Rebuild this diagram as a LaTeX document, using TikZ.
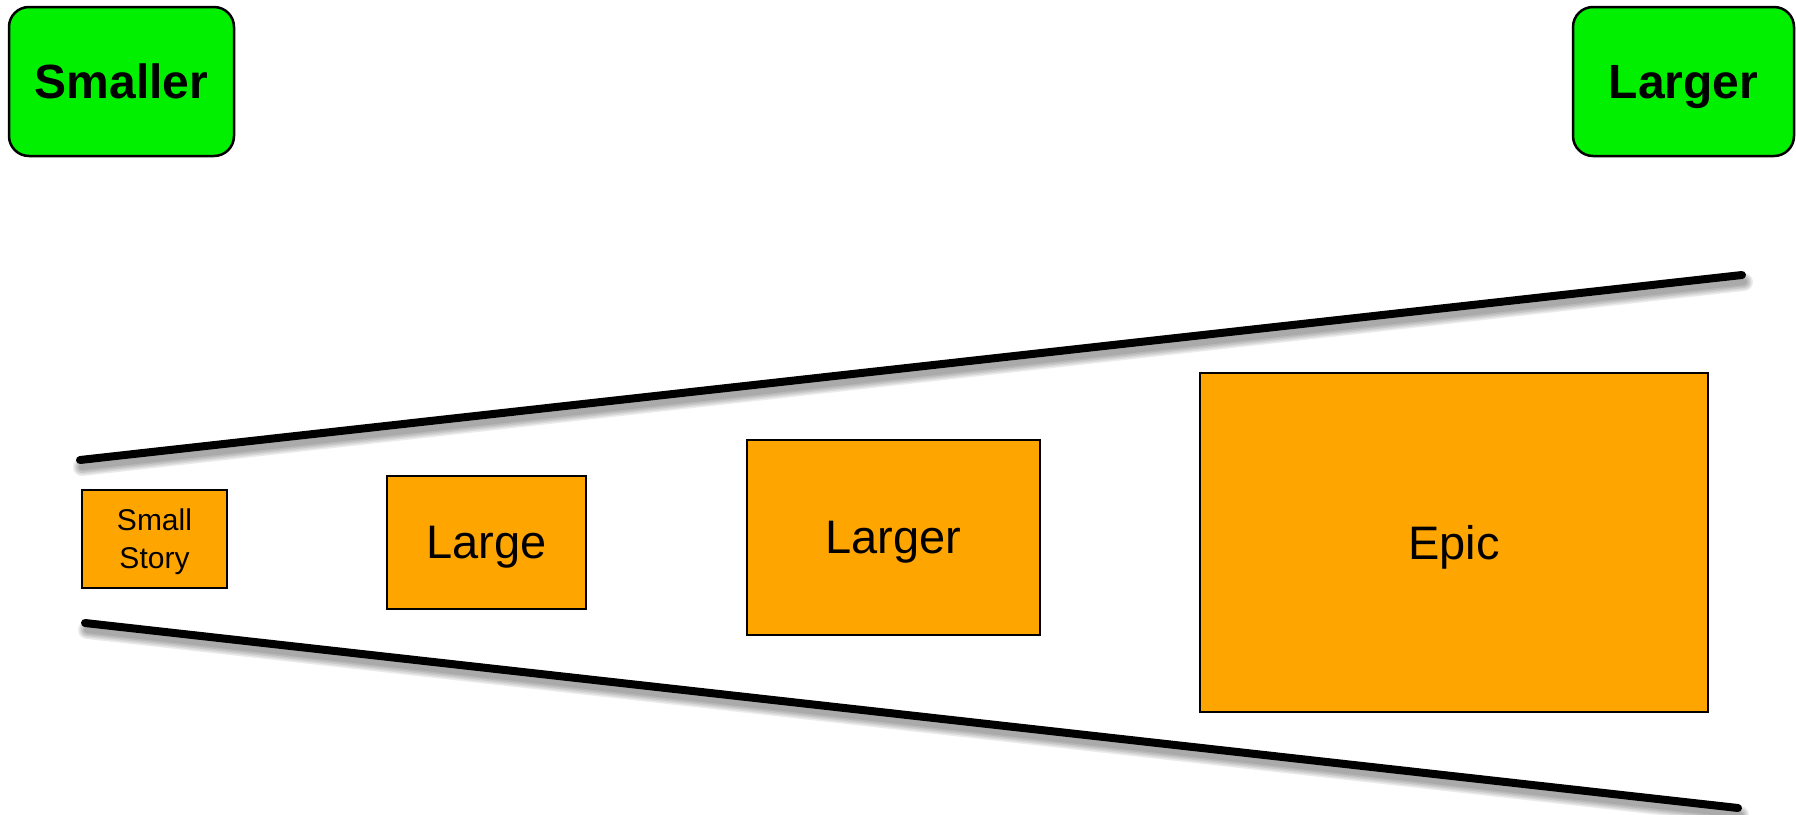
\documentclass[tikz,border=0pt]{standalone}
\usepackage{fontspec}
\setmainfont{Liberation Sans}
\definecolor{boxgreen}{RGB}{0,240,0}
\definecolor{boxorange}{RGB}{255,165,0}
\begin{document}
\begin{tikzpicture}[x=1pt,y=-1pt,
  greenbox/.style={draw=black, line width=2.5pt, fill=boxgreen, rounded corners=20pt, inner sep=0pt,
    text depth=0pt, font=\fontsize{48}{56}\selectfont\bfseries},
  orangebox/.style={draw=black, line width=2pt, fill=boxorange, inner sep=0pt,
    text depth=0pt, font=\fontsize{47}{56}\selectfont},
  bigline/.style={line width=8pt, line cap=round, black},
  shadowline/.style={line cap=round, black, opacity=0.08}
]
\useasboundingbox (0,0) rectangle (1796,814);

\node[greenbox, minimum width=225pt, minimum height=149pt] (smaller) at (121.5,81.5) {Smaller};
\node[greenbox, minimum width=221pt, minimum height=149pt] (largerg) at (1683.5,81.5) {Larger};

\coordinate (ua) at (80,460);
\coordinate (ub) at (1742,275);
\coordinate (la) at (85,623);
\coordinate (lb) at (1738,808);

% soft drop shadows
\foreach \w in {18,15,12,9,6}{
  \draw[shadowline, line width=\w pt] ([shift={(2,7)}]ua) -- ([shift={(2,7)}]ub);
  \draw[shadowline, line width=\w pt] ([shift={(2,7)}]la) -- ([shift={(2,7)}]lb);
}
\draw[bigline] (ua) -- (ub);
\draw[bigline] (la) -- (lb);

\node[orangebox, minimum width=145pt, minimum height=98pt, align=center,
  font=\fontsize{30}{38}\selectfont] (small) at (154.5,539) {Small\\Story};
\node[orangebox, minimum width=199pt, minimum height=133pt] (large) at (486.5,542.5) {Large};
\node[orangebox, minimum width=293pt, minimum height=195pt] (larger) at (893.5,537.5) {Larger};
\node[orangebox, minimum width=508pt, minimum height=339pt] (epic) at (1454,542.5) {Epic};
\end{tikzpicture}
\end{document}
